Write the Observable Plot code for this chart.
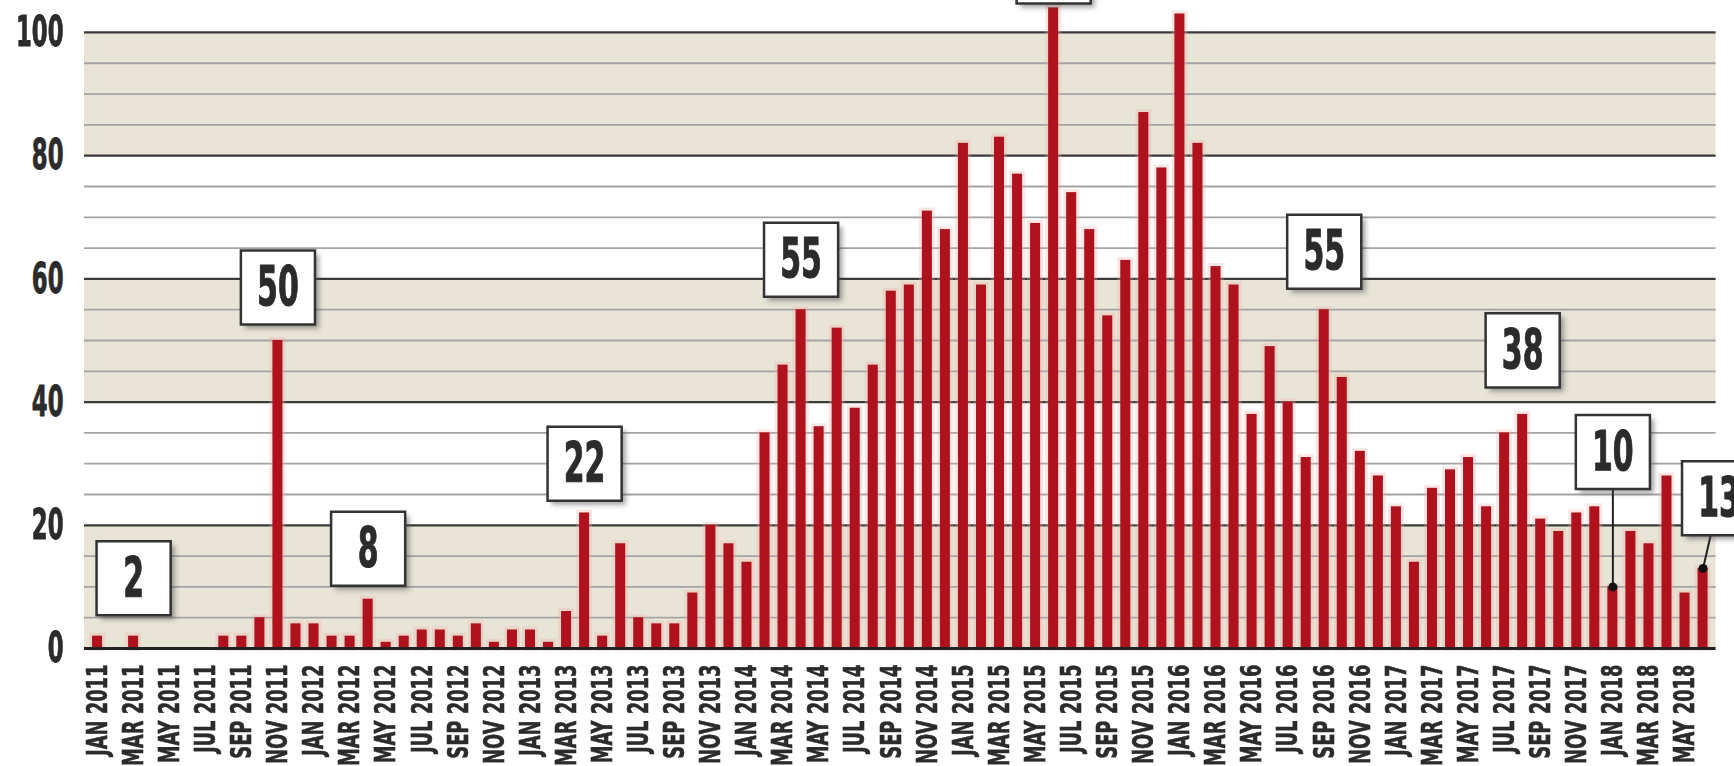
<!DOCTYPE html>
<html>
<head>
<meta charset="utf-8">
<script src="https://cdn.jsdelivr.net/npm/d3@7"></script>
<script src="https://cdn.jsdelivr.net/npm/@observablehq/plot@0.6"></script>
<style>
  html, body { margin: 0; padding: 0; background: #fff; overflow: hidden; }
</style>
</head>
<body>
<div id="chart"></div>
<script>
// ---- categories ----
const monthNames = ["JAN","FEB","MAR","APR","MAY","JUN","JUL","AUG","SEP","OCT","NOV","DEC"];
const years = [2011, 2012, 2013, 2014, 2015, 2016, 2017, 2018];
const months = years.flatMap(y => monthNames.map(m => `${m} ${y}`)).slice(0, 90); // JAN 2011 .. JUN 2018

// ---- series values ----
const values = [
  2, 0, 2, 0, 0, 0, 0, 2, 2, 5, 50, 4,          // 2011
  4, 2, 2, 8, 1, 2, 3, 3, 2, 4, 1, 3,           // 2012
  3, 1, 6, 22, 2, 17, 5, 4, 4, 9, 20, 17,       // 2013
  14, 35, 46, 55, 36, 52, 39, 46, 58, 59, 71, 68, // 2014
  82, 59, 83, 77, 69, 104, 74, 68, 54, 63, 87, 78, // 2015
  103, 82, 62, 59, 38, 49, 40, 31, 55, 44, 32, 28, // 2016
  23, 14, 26, 29, 31, 23, 35, 38, 21, 19, 22, 23,  // 2017
  10, 19, 17, 28, 9, 13                            // 2018
];

// ---- tick labels ----
const xTickLabels = months.filter((d, i) => i % 2 === 0);
const yTickLabels = [0, 20, 40, 60, 80, 100];
const minorTicks = [5, 10, 15, 25, 30, 35, 45, 50, 55, 65, 70, 75, 85, 90, 95];
const shadedFrom = [0, 40, 80];
const shadedTo = [20, 60, 100];

// ---- callout boxes ----
const annLabels = ["2", "50", "8", "22", "55", "104", "55", "38", "10", "13"];
const annMonths = ["MAR 2011", "NOV 2011", "APR 2012", "APR 2013", "APR 2014", "JUN 2015", "SEP 2016", "AUG 2017", "JAN 2018", "JUN 2018"];
const annLevels = [11.4, 58.6, 16.2, 30.0, 63.1, 110.7, 64.4, 48.4, 31.9, 24.4];

// ---- tables built from the arrays ----
const data = months.map((m, i) => ({month: m, value: values[i]}));
const ann = annLabels.map((t, i) => ({
  label: t, month: annMonths[i], level: annLevels[i], value: values[months.indexOf(annMonths[i])]
}));
const bands = shadedFrom.map((s, i) => ({y1: s, y2: shadedTo[i]}));
const annMain = ann.filter(d => d.label !== "13");
const annRight = ann.filter(d => d.label === "13");
const annTen = ann.filter(d => d.label === "10");
const annDots = ann.filter(d => d.label === "10" || d.label === "13");

const FONT = '"Liberation Sans Narrow","DejaVu Sans Condensed","Roboto Condensed","Liberation Sans",sans-serif';
const INK = "#2b2b2b";
const BOX_R = 41.8;
const lineShape = {draw(context, l) { context.moveTo(0, 0); context.lineTo(0, -l); }};

const chart = Plot.plot({
  width: 1734,
  height: 766,
  marginLeft: 84,
  marginRight: 18.4,
  marginTop: 0,
  marginBottom: 118,
  style: {fontFamily: FONT, fontWeight: "bold", color: INK, background: "white", overflow: "hidden"},
  x: {type: "band", domain: months, padding: 0.445, round: false, label: null},
  y: {domain: [0, 105.19], label: null},
  marks: [
    Plot.rect(bands, {y1: "y1", y2: "y2", fill: "#e8e4d6"}),
    Plot.ruleY(minorTicks, {stroke: "#a3a3a3", strokeWidth: 1.8}),
    Plot.ruleY(yTickLabels.slice(1), {stroke: "#3a3a3a", strokeWidth: 2.3}),
    Plot.barY(data.filter(d => d.value > 0), {x: "month", y: "value", fill: "#efb0aa", stroke: "#efb0aa", strokeWidth: 6, fillOpacity: 0.3, strokeOpacity: 0.3}),
    Plot.barY(data, {x: "month", y: "value", fill: "#b0121d"}),
    Plot.ruleY([0], {stroke: "#222", strokeWidth: 3}),
    Plot.link(annTen, {x1: "month", x2: "month", y1: "value", y2: "level", stroke: "#222", strokeWidth: 2}),
    Plot.vector(annRight, {x: "month", y: "value", length: 72, rotate: 12.9, anchor: "start", stroke: "#222", strokeWidth: 2, shape: lineShape}),
    Plot.dot(annDots, {x: "month", y: "value", r: 4.5, fill: "#111"}),
    // shadows (blurred below)
    Plot.dot(annMain, {x: "month", y: "level", symbol: "square", r: BOX_R, fill: "#444", fillOpacity: 0.5, dx: 4, dy: 4}),
    Plot.dot(annRight, {x: "month", y: "level", symbol: "square", r: BOX_R, fill: "#444", fillOpacity: 0.5, dx: 20, dy: 4}),
    // boxes
    Plot.dot(annMain, {x: "month", y: "level", symbol: "square", r: BOX_R, fill: "white", stroke: "#333", strokeWidth: 2.5}),
    Plot.dot(annRight, {x: "month", y: "level", symbol: "square", r: BOX_R, fill: "white", stroke: "#333", strokeWidth: 2.5, dx: 16}),
    // box numbers
    Plot.text(annMain, {x: "month", y: "level", text: "label", fontSize: 55, fontWeight: "bold", fill: INK}),
    Plot.text(annRight, {x: "month", y: "level", text: "label", fontSize: 55, fontWeight: "bold", fill: INK, dx: 16}),
    // axes
    Plot.axisY(yTickLabels, {tickSize: 0, tickPadding: 21, fontSize: 43, label: null}),
    Plot.axisX(xTickLabels, {tickSize: 0, tickPadding: 16, tickRotate: -90, fontSize: 29, label: null})
  ]
});

document.getElementById("chart").append(chart);

// blur for the box shadows
const svg = d3.select(chart);
const defs = svg.insert("defs", ":first-child");
defs.append("filter").attr("id", "boxblur").attr("x", "-20%").attr("y", "-20%").attr("width", "140%").attr("height", "140%")
  .append("feGaussianBlur").attr("stdDeviation", 2.5);
svg.selectAll('g[aria-label="dot"][fill-opacity="0.5"]').attr("filter", "url(#boxblur)");

// condense and thicken the lettering like the reference's heavy narrow type
function squeeze(nodes, refText, refWidth, weight) {
  if (!nodes.length) return;
  const ref = nodes.find(n => n.textContent === refText) || nodes[0];
  const refLen = ref.getComputedTextLength();
  if (!refLen) return;
  const k = refWidth / refLen;
  nodes.forEach(n => {
    const L = n.getComputedTextLength();
    n.setAttribute("textLength", L * k);
    n.setAttribute("lengthAdjust", "spacingAndGlyphs");
    n.setAttribute("stroke", INK);
    n.setAttribute("stroke-width", weight);
    n.setAttribute("stroke-linejoin", "round");
  });
}
squeeze(svg.selectAll('g[aria-label="y-axis tick label"] text').nodes(), "20", 31.7, 0.9);
squeeze(svg.selectAll('g[aria-label="x-axis tick label"] text').nodes(), "JAN 2011", 91.5, 0.6);
const boxTexts = svg.selectAll('g[aria-label="text"] text').nodes().filter(n => annLabels.includes(n.textContent));
squeeze(boxTexts, "55", 41.7, 1.0);
</script>
</body>
</html>
